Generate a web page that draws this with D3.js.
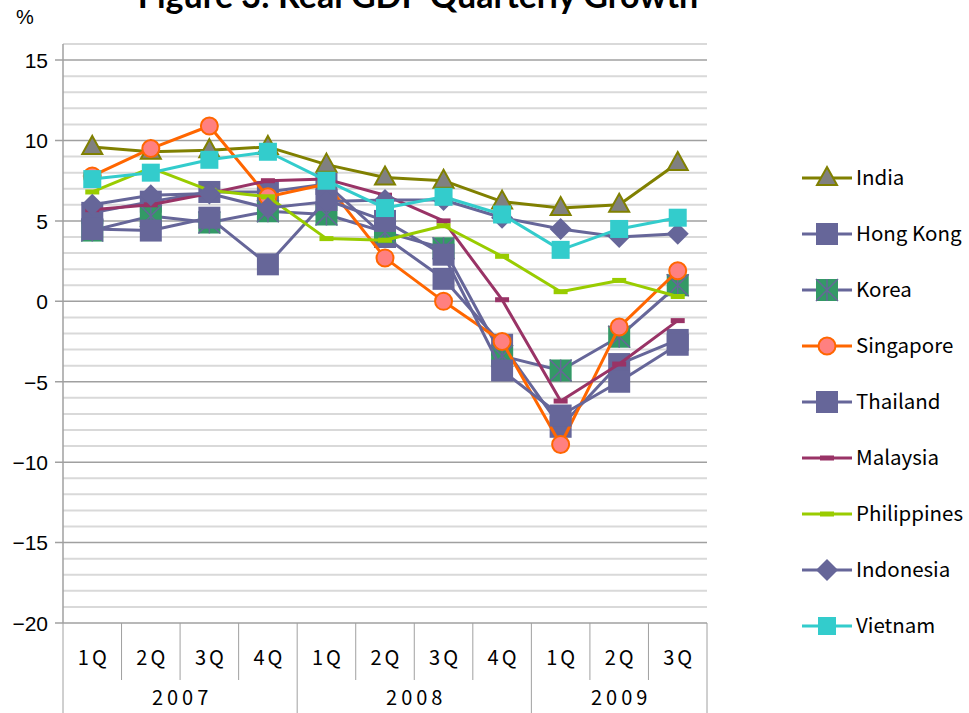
<!DOCTYPE html>
<html><head><meta charset="utf-8">
<script src="https://cdn.jsdelivr.net/npm/d3@7"></script>
<style>
html,body{margin:0;padding:0;background:#fff;}
svg{display:block;}
</style></head>
<body>
<svg id="chart" width="969" height="713"></svg>
<script>
const quarters = ["1Q","2Q","3Q","4Q","1Q","2Q","3Q","4Q","1Q","2Q","3Q"];
const years = ["2007","2008","2009"];
const yearSpans = [4,4,3];
const yTicks = [-20,-15,-10,-5,0,5,10,15];

const india       = [9.6, 9.3, 9.4, 9.6, 8.5, 7.7, 7.5, 6.2, 5.8, 6.0, 8.6];
const hongKong    = [5.5, 6.2, 6.8, 6.8, 7.3, 4.0, 1.4, -2.7, -7.8, -3.9, -2.4];
const korea       = [4.4, 5.3, 4.9, 5.6, 5.4, 4.3, 3.3, -3.4, -4.3, -2.2, 1.0];
const singapore   = [7.8, 9.5, 10.9, 6.5, 7.3, 2.7, 0.0, -2.5, -8.9, -1.6, 1.9];
const thailand    = [4.5, 4.4, 5.2, 2.3, 6.3, 5.0, 2.9, -4.3, -7.1, -5.0, -2.7];
const malaysia    = [5.7, 6.0, 6.7, 7.5, 7.6, 6.6, 5.0, 0.1, -6.2, -3.9, -1.2];
const philippines = [6.8, 8.3, 6.9, 6.5, 3.9, 3.8, 4.7, 2.8, 0.6, 1.3, 0.3];
const indonesia   = [6.0, 6.6, 6.7, 5.8, 6.2, 6.3, 6.3, 5.2, 4.5, 4.0, 4.2];
const vietnam     = [7.6, 8.0, 8.8, 9.3, 7.5, 5.8, 6.5, 5.4, 3.2, 4.5, 5.2];

const seriesNames = ["India","Hong Kong","Korea","Singapore","Thailand","Malaysia","Philippines","Indonesia","Vietnam"];
const seriesValues = [india, hongKong, korea, singapore, thailand, malaysia, philippines, indonesia, vietnam];
const seriesLine = ["#808000","#666699","#666699","#FF6600","#666699","#993366","#99CC00","#666699","#33CCCC"];
const seriesMarker = ["triangle","square","asterisk","circle","square","dash","dash","diamond","smallsquare"];

const svg = d3.select("#chart");
const L = 63, R = 707, T = 44, B = 623;
const x = d3.scaleBand().domain(d3.range(quarters.length)).range([L, R]).paddingInner(0).paddingOuter(0);
const y = d3.scaleLinear().domain([-20, 16]).range([B, T]);
const cx = i => x(i) + x.bandwidth()/2;
const gothic = "'Noto Sans CJK JP', 'Noto Sans CJK SC', sans-serif";

// gridlines
const g = svg.append("g");
d3.range(-19, 17).forEach(v => {
  if (v % 5 === 0) return;
  g.append("line").attr("x1", L).attr("x2", R).attr("y1", y(v)).attr("y2", y(v))
    .attr("stroke", "#d9d9d9").attr("stroke-width", 2);
});
yTicks.forEach(v => {
  g.append("line").attr("x1", L - 8).attr("x2", R).attr("y1", y(v)).attr("y2", y(v))
    .attr("stroke", "#a0a0a0").attr("stroke-width", 1.5);
});

// y axis
const yAxis = d3.axisLeft(y).tickValues(yTicks).tickSize(0).tickPadding(15)
  .tickFormat(d => (d < 0 ? "\u2212" + Math.abs(d) : String(d)));
const ya = svg.append("g").attr("transform", `translate(${L},0)`).call(yAxis);
ya.select(".domain").remove();
ya.selectAll("text").attr("font-family", "Liberation Sans, Arial, sans-serif").attr("font-size", 21).attr("fill", "#000").attr("dy", "0.35em");
svg.append("line").attr("x1", L).attr("x2", L).attr("y1", T).attr("y2", B).attr("stroke", "#a0a0a0").attr("stroke-width", 1.5);

// x axis (two-level)
const xg = svg.append("g");
d3.range(quarters.length + 1).forEach(i => {
  const xx = i < quarters.length ? x(i) : R;
  xg.append("line").attr("x1", xx).attr("x2", xx).attr("y1", B).attr("y2", 680)
    .attr("stroke", "#a0a0a0").attr("stroke-width", 1);
});
quarters.forEach((q, i) => {
  xg.append("text").attr("x", cx(i) + 1.5).attr("y", 665).attr("text-anchor", "middle")
    .attr("font-family", gothic).attr("font-size", 20)
    .attr("letter-spacing", 3).attr("fill", "#000").text(q);
});
let start = 0;
const yearBounds = [0];
yearSpans.forEach((n, k) => {
  const x0 = x(start), x1 = (start + n < quarters.length) ? x(start + n) : R;
  xg.append("text").attr("x", (x0 + x1)/2 + 2).attr("y", 705).attr("text-anchor", "middle")
    .attr("font-family", gothic).attr("font-size", 20)
    .attr("letter-spacing", 4).attr("fill", "#000").text(years[k]);
  start += n;
  yearBounds.push(start);
});
yearBounds.forEach(i => {
  const xx = i < quarters.length ? x(i) : R;
  xg.append("line").attr("x1", xx).attr("x2", xx).attr("y1", 680).attr("y2", 713)
    .attr("stroke", "#a0a0a0").attr("stroke-width", 1);
});

// markers
function drawMarker(sel, type, px, py, lineColor) {
  if (type === "triangle") {
    sel.append("path").attr("d", `M${px},${py-11}L${px+10},${py+7}L${px-10},${py+7}Z`)
      .attr("fill", "#808080").attr("stroke", "#808000").attr("stroke-width", 2);
  } else if (type === "square") {
    sel.append("rect").attr("x", px-11).attr("y", py-11).attr("width", 22).attr("height", 22).attr("fill", "#666699");
  } else if (type === "smallsquare") {
    sel.append("rect").attr("x", px-9).attr("y", py-9).attr("width", 18).attr("height", 18).attr("fill", "#33CCCC");
  } else if (type === "asterisk") {
    sel.append("rect").attr("x", px-11).attr("y", py-11).attr("width", 22).attr("height", 22).attr("fill", "#339966");
    sel.append("path").attr("d", `M${px},${py-11}V${py+11}M${px-11},${py-11}L${px+11},${py+11}M${px+11},${py-11}L${px-11},${py+11}`)
      .attr("stroke", "#666699").attr("stroke-width", 1.5).attr("fill", "none");
  } else if (type === "circle") {
    sel.append("circle").attr("cx", px).attr("cy", py).attr("r", 8.5)
      .attr("fill", "#FF8080").attr("stroke", "#FF6600").attr("stroke-width", 2);
  } else if (type === "dash") {
    sel.append("rect").attr("x", px-7).attr("y", py-2.5).attr("width", 14).attr("height", 5).attr("fill", lineColor);
  } else if (type === "diamond") {
    sel.append("path").attr("d", `M${px},${py-11}L${px+11},${py}L${px},${py+11}L${px-11},${py}Z`).attr("fill", "#666699");
  }
}

const line = d3.line().x((d, i) => cx(i)).y(d => y(d));
const plot = svg.append("g");
seriesValues.forEach((vals, s) => {
  const sg = plot.append("g");
  sg.append("path").datum(vals).attr("d", line).attr("fill", "none")
    .attr("stroke", seriesLine[s]).attr("stroke-width", 3).attr("stroke-linejoin", "round");
  vals.forEach((v, i) => drawMarker(sg, seriesMarker[s], cx(i), y(v), seriesLine[s]));
});

// legend
const lg = svg.append("g");
seriesNames.forEach((name, s) => {
  const ly = 178 + s * 56;
  lg.append("line").attr("x1", 802).attr("x2", 852).attr("y1", ly).attr("y2", ly)
    .attr("stroke", seriesLine[s]).attr("stroke-width", 3);
  drawMarker(lg, seriesMarker[s], 827, ly, seriesLine[s]);
  lg.append("text").attr("x", 856).attr("y", ly).attr("dy", "0.35em")
    .attr("font-family", gothic).attr("font-size", 20.5)
    .attr("fill", "#000").text(name);
});

// title and unit
svg.append("text").attr("x", 418).attr("y", 8).attr("text-anchor", "middle")
  .attr("font-family", "Lato, sans-serif").attr("font-weight", "bold").attr("font-size", 34)
  .attr("fill", "#000").text("Figure 3: Real GDP Quarterly Growth");
svg.append("text").attr("x", 25).attr("y", 17).attr("text-anchor", "middle").attr("dy", "0.35em")
  .attr("font-family", "Liberation Sans, Arial, sans-serif").attr("font-size", 20)
  .attr("fill", "#000").text("%");
</script>
</body></html>
